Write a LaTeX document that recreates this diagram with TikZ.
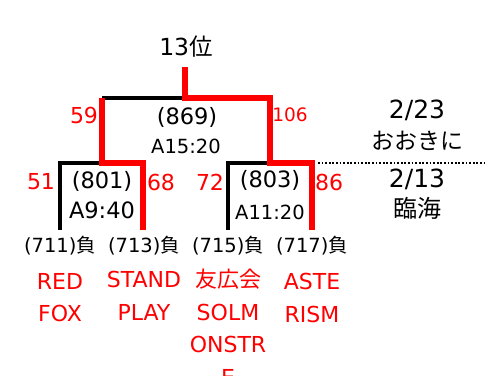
\documentclass[tikz,border=0pt]{standalone}
\usepackage{fontspec}
\setmainfont{DejaVu Sans}
\newfontfamily\jp{Noto Sans CJK JP}

\begin{document}
\begin{tikzpicture}[x=1pt,y=1pt,
    redline/.style={red,line width=6.5pt,line join=miter},
    blackline/.style={black,line width=4.5pt,line join=miter},
    seed/.style={font=\fontsize{22.5}{26}\selectfont},
    slot/.style={font=\fontsize{19.5}{23}\selectfont},
    score/.style={text=red,font=\fontsize{22}{25}\selectfont},
    loser/.style={font=\fontsize{19.5}{22}\selectfont},
    team/.style={text=red,align=center,anchor=north,font=\fontsize{22}{32.5}\selectfont}]
        \tikzstyle{every node}+=[inner sep=0pt]
        \useasboundingbox (0,0) rectangle (486,-375);
        % bracket corners
        \coordinate (top) at (185,-67);
        \coordinate (fm) at (185,-98);
        \coordinate (fl) at (102,-98);
        \coordinate (fr) at (270,-98);
        \coordinate (sl1) at (60,-163);
        \coordinate (sm1) at (102,-163);
        \coordinate (sr1) at (143,-163);
        \coordinate (sl2) at (228,-163);
        \coordinate (sm2) at (270,-163);
        \coordinate (sr2) at (312,-163);
        \coordinate (b711) at (60,-230);
        \coordinate (b713) at (143,-230);
        \coordinate (b715) at (228,-230);
        \coordinate (b717) at (312,-230);
        \coordinate (dotl) at (318,-163);
        \coordinate (dotr) at (486,-163);
        % black lines
        \draw [blackline] (fl) -- (fm);
        \draw [blackline] (b711) -- (sl1) -- (sm1);
        \draw [blackline] (b715) -- (sl2) -- (sm2);
        \draw [black,line width=1.8pt,dash pattern=on 1.8pt off 1.8pt] (dotl) -- (dotr);
        % red lines
        \draw [redline] (top) -- (fm) -- (fr) -- (sm2) -- (sr2) -- (b717);
        \draw [redline] (fl) -- (sm1) -- (sr1) -- (b713);
        % labels
        \draw (186,-47) node (rank) [font=\fontsize{23.5}{27}\selectfont] {13{\jp 位}};
        \draw (187,-117) node (m869) [seed] {(869)};
        \draw (186,-146) node (t869) [slot] {A15:20};
        \draw (84,-115) node (p59) [score] {59};
        \draw (290,-115) node (p106) [score,font=\fontsize{18.5}{22}\selectfont] {106};
        \draw (41,-182) node (p51) [score] {51};
        \draw (102,-181) node (m801) [seed] {(801)};
        \draw (102,-210) node (t801) [seed] {A9:40};
        \draw (161,-182) node (p68) [score] {68};
        \draw (210,-182) node (p72) [score] {72};
        \draw (270,-180) node (m803) [seed] {(803)};
        \draw (270,-212) node (t803) [slot] {A11:20};
        \draw (329,-182) node (p86) [score] {86};
        \draw (417,-110) node (d223) [font=\fontsize{25}{29}\selectfont] {2/23};
        \draw (417,-141) node (v223) [font=\jp\fontsize{23}{27}\selectfont] {おおきに};
        \draw (417,-179) node (d213) [font=\fontsize{25}{29}\selectfont] {2/13};
        \draw (417,-208) node (v213) [font=\jp\fontsize{24}{28}\selectfont] {臨海};
        % losers
        \draw (60,-246) node (l711) [loser] {(711){\jp 負}};
        \draw (144,-246) node (l713) [loser] {(713){\jp 負}};
        \draw (228,-246) node (l715) [loser] {(715){\jp 負}};
        \draw (312,-246) node (l717) [loser] {(717){\jp 負}};
        % teams
        \draw (60,-273) node (redfox) [team] {RED\\FOX};
        \draw (144,-271) node (standplay) [team] {STAND\\PLAY};
        \draw (228,-269) node (solm) [team] {{\jp 友広会}\\SOLM\\ONSTR\\E};
        \draw (312,-273) node (aste) [team] {ASTE\\RISM};
\end{tikzpicture}
\end{document}
